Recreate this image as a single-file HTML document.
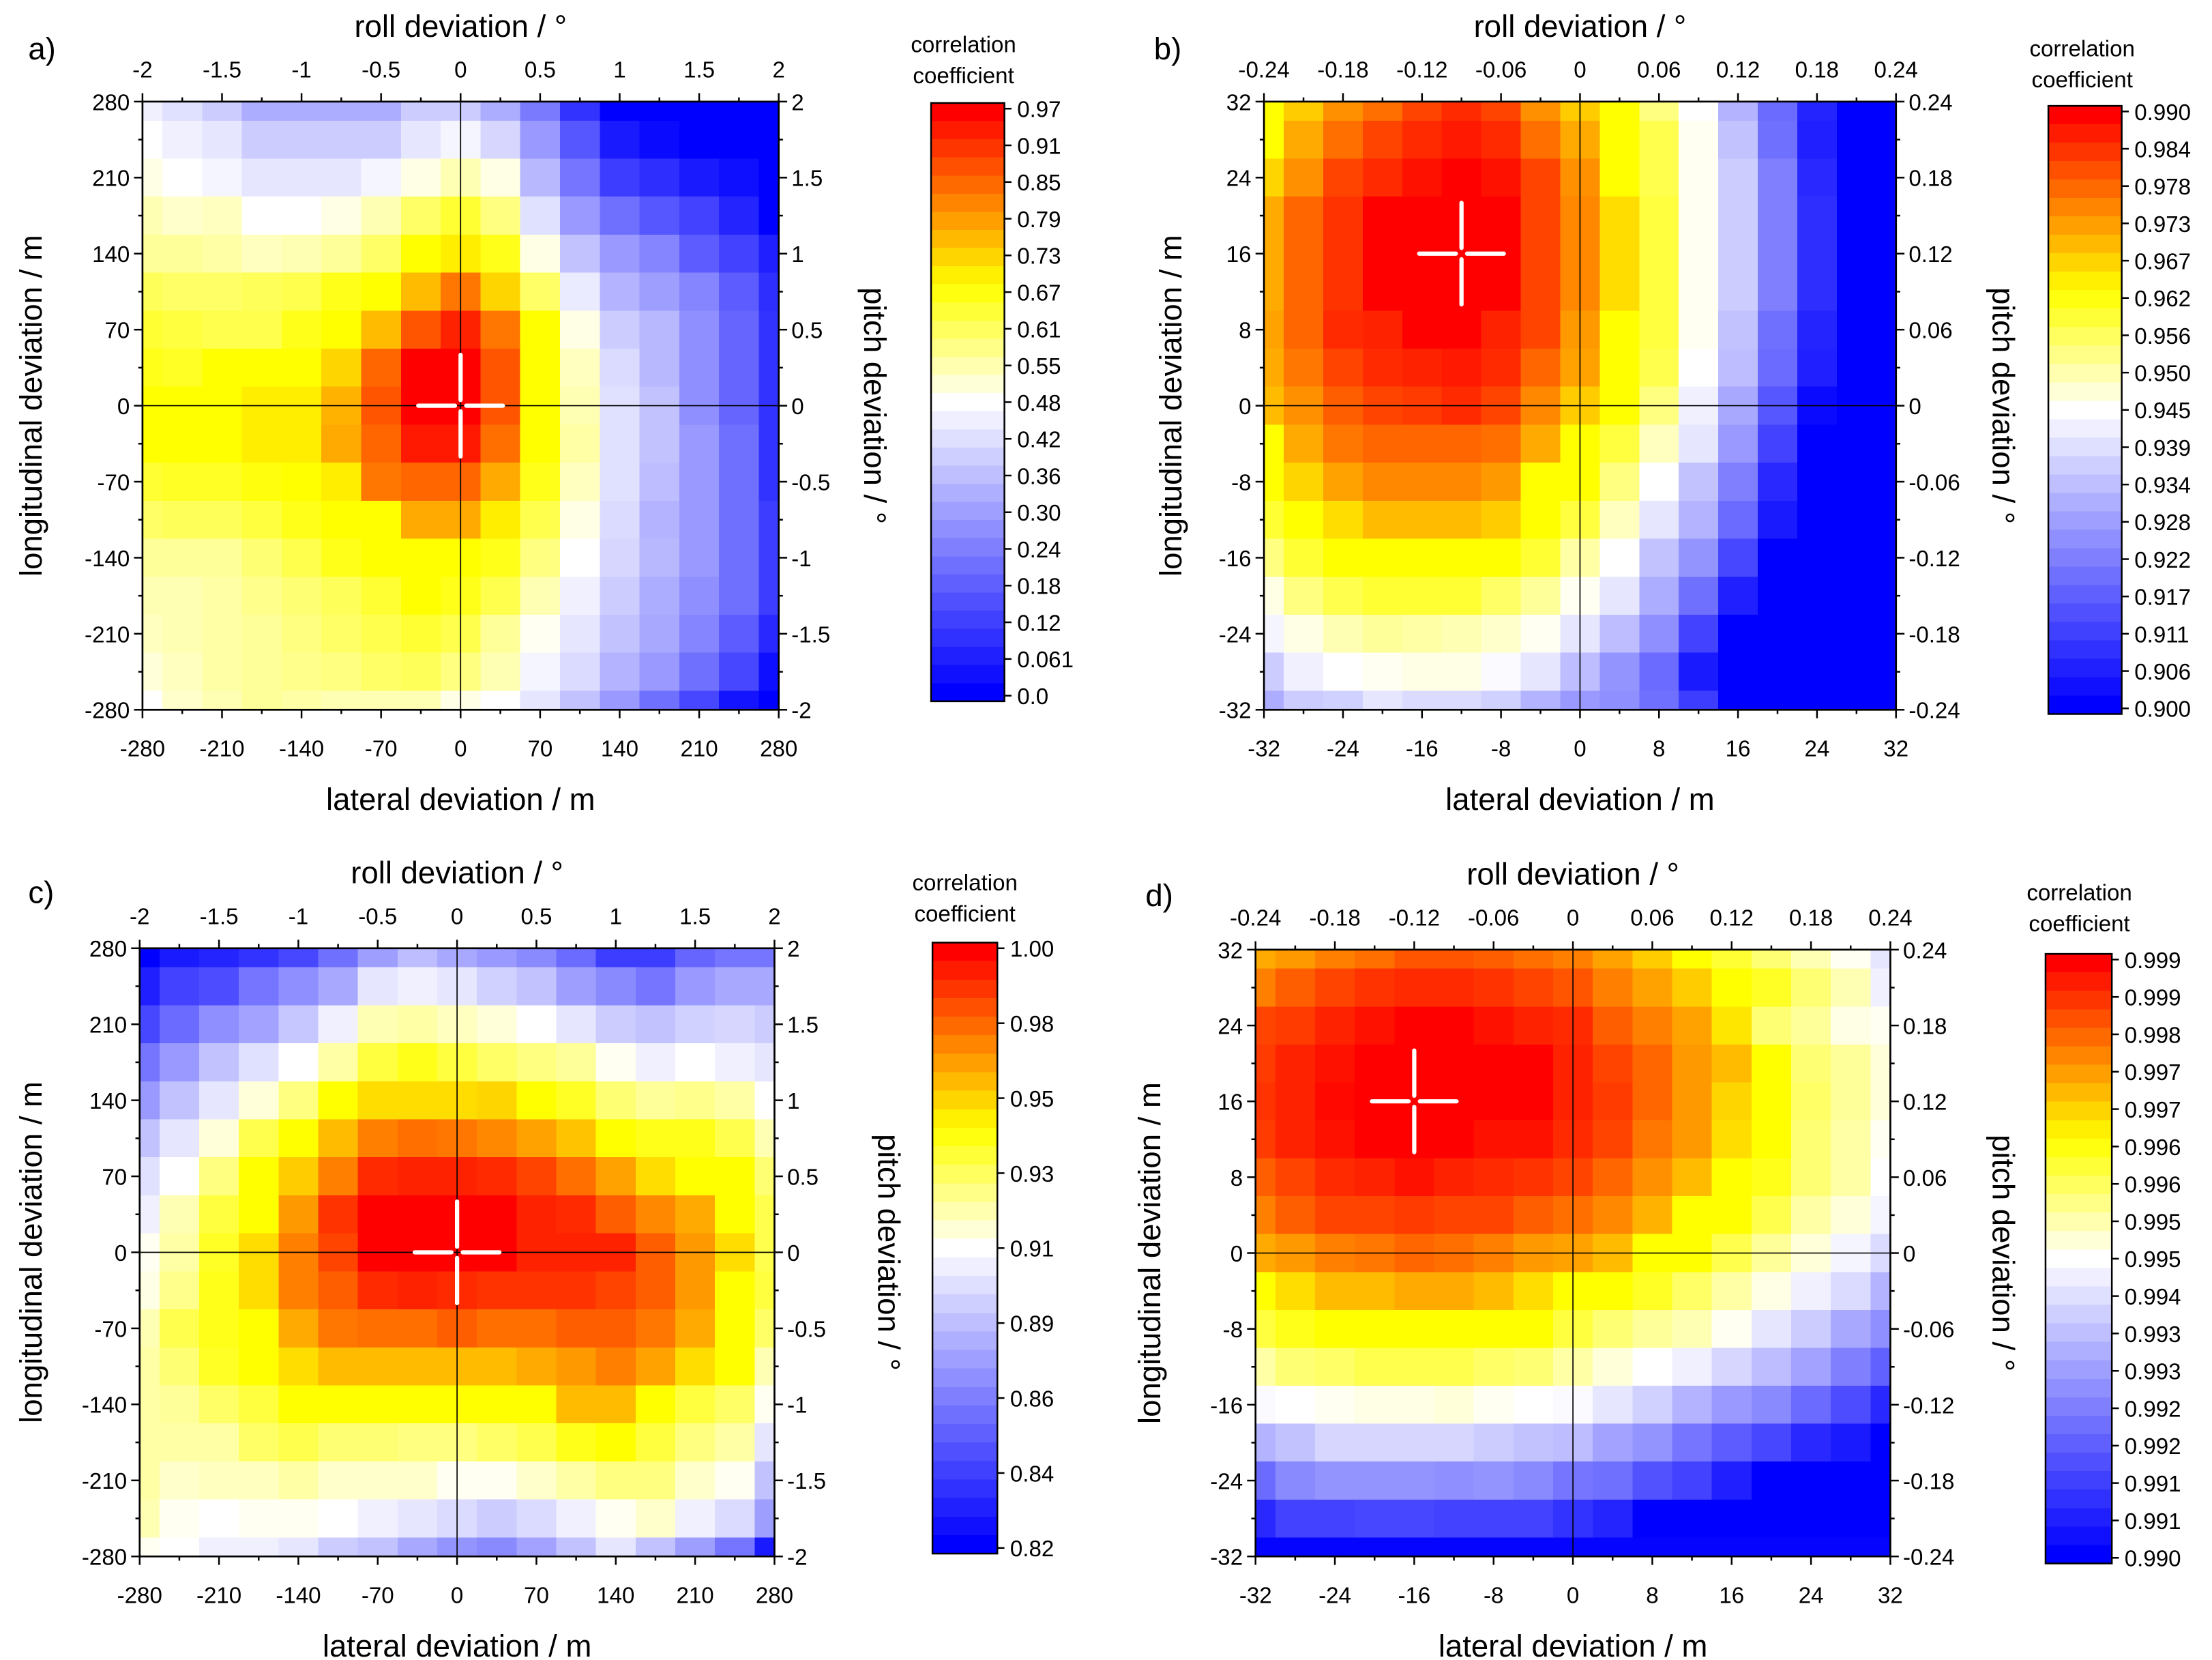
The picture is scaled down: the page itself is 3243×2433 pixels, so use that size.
<!DOCTYPE html>
<html><head><meta charset="utf-8"><style>
html,body{margin:0;padding:0;background:#fff;}
svg{display:block;font-family:"Liberation Sans",Arial,sans-serif;}
</style></head><body>
<svg id="fig" xmlns="http://www.w3.org/2000/svg" width="3243" height="2433" viewBox="0 0 1568 1176.4" preserveAspectRatio="none"></svg>
<script>
// ---- data (normalized colour level 0..100; rows from top y=max to bottom y=min) ----
const aLateral = [-280,-245,-210,-175,-140,-105,-70,-35,0,35,70,105,140,175,210,245,280];
const aLongitudinal = [280,245,210,175,140,105,70,35,0,-35,-70,-105,-140,-175,-210,-245,-280];
const aVals = [
[47,44,40,34,34,34,34,40,40,34,24,10,0,0,0,0,0],
[50,47,45,40,40,40,40,45,48,42,30,17,5,2,0,0,0],
[52,50,48,45,45,45,48,52,56,52,36,23,12,9,5,3,0],
[56,54,55,50,50,52,56,62,66,60,44,30,22,17,13,7,0],
[58,58,57,55,56,58,62,70,72,68,52,38,30,26,18,13,6],
[63,62,62,63,64,68,70,78,86,75,62,46,35,31,26,18,9],
[66,65,64,64,68,70,78,90,96,86,70,52,40,36,28,20,10],
[68,67,70,70,70,75,88,100,100,90,70,55,43,36,28,20,10],
[70,70,70,72,72,79,90,100,100,90,70,56,44,38,28,20,10],
[70,70,70,72,72,80,88,97,97,87,70,57,44,38,30,22,10],
[66,67,67,69,70,72,86,88,88,80,68,55,44,37,30,22,10],
[62,63,63,65,68,70,70,80,80,72,64,52,43,35,30,22,12],
[58,58,58,61,64,68,70,70,70,68,60,50,42,36,30,22,12],
[56,56,57,59,61,63,66,70,68,64,56,47,40,34,28,22,12],
[55,56,57,58,60,62,64,66,64,58,51,45,38,33,26,18,8],
[53,55,57,58,59,60,62,63,60,56,48,43,35,30,22,14,3],
[50,54,56,58,57,56,56,56,52,50,45,38,30,22,14,4,0]];
const bLateral = [-32,-28,-24,-20,-16,-12,-8,-4,0,4,8,12,16,20,24,28,32];
const bLongitudinal = [32,28,24,20,16,12,8,4,0,-4,-8,-12,-16,-20,-24,-28,-32];
const bVals = [
[70,76,83,87,92,95,92,83,76,70,60,50,35,21,7,0,0],
[70,80,87,92,95,97,95,87,80,70,64,51,38,22,6,0,0],
[75,83,92,95,98,100,98,92,83,70,64,51,40,25,8,0,0],
[80,88,94,100,100,100,100,92,84,74,65,51,40,25,9,0,0],
[80,88,94,100,100,100,100,92,84,74,65,51,40,25,9,0,0],
[80,88,94,100,100,100,100,92,84,74,65,51,40,25,9,0,0],
[81,88,95,96,100,100,96,92,82,70,65,51,38,22,7,0,0],
[80,86,92,95,96,97,95,88,81,70,64,50,37,21,6,0,0],
[78,83,89,92,93,95,92,84,76,70,60,47,33,17,2,0,0],
[70,80,86,88,88,88,87,80,70,65,55,45,30,13,0,0,0],
[70,75,81,84,84,84,82,70,70,60,50,38,25,8,0,0,0],
[66,70,74,78,78,78,76,70,65,55,45,35,21,5,0,0,0],
[60,66,70,70,70,70,70,66,57,50,38,29,14,0,0,0,0],
[52,60,64,66,66,66,62,58,51,45,34,22,6,0,0,0,0],
[48,52,56,58,57,56,54,51,45,37,28,13,0,0,0,0,0],
[40,47,50,51,52,52,49,45,37,29,21,5,0,0,0,0,0],
[34,40,41,45,43,43,41,35,30,28,22,12,0,0,0,0,0]];
const cLateral = aLateral.slice();
const cLongitudinal = aLongitudinal.slice();
const cVals = [
[0,5,7,10,14,22,31,37,33,30,27,21,12,12,20,23,23],
[6,13,15,23,28,33,45,47,45,41,38,31,27,23,30,33,33],
[14,21,28,32,39,47,56,57,55,53,50,45,40,38,41,42,40],
[23,30,38,44,50,57,65,68,65,62,60,58,51,47,50,47,45],
[30,38,45,53,60,70,74,74,74,75,70,67,61,58,59,57,50],
[38,45,53,64,70,78,85,87,86,84,81,77,70,68,68,64,56],
[44,50,60,70,76,85,95,96,96,95,92,87,81,74,70,70,61],
[47,56,65,70,82,94,100,100,100,100,96,95,89,84,80,70,64],
[51,57,67,74,85,92,100,100,100,100,96,96,96,89,82,74,64],
[52,59,68,74,85,89,95,96,95,94,94,94,92,89,82,70,65],
[56,64,68,70,80,86,87,87,89,87,87,89,89,86,80,70,62],
[57,61,67,70,74,78,78,78,78,78,80,82,85,81,74,70,56],
[57,58,62,65,70,70,70,70,70,70,70,78,78,70,65,62,51],
[57,57,57,62,64,61,61,60,60,62,64,68,70,65,60,57,45],
[57,54,55,55,57,54,54,54,51,51,54,57,60,60,54,51,38],
[56,51,50,51,51,50,47,45,43,40,43,47,51,54,47,43,31],
[51,50,47,47,45,40,38,33,29,27,32,38,45,38,31,23,5]];
const dLateral = bLateral.slice();
const dLongitudinal = bLongitudinal.slice();
const dVals = [
[80,82,85,87,90,90,89,87,85,81,76,70,66,61,56,51,45],
[85,89,92,94,95,95,94,92,90,85,81,76,70,67,61,56,47],
[92,93,96,98,100,100,98,96,95,89,85,81,73,61,58,52,51],
[93,96,98,100,100,100,100,100,96,92,88,82,78,70,61,58,53],
[94,96,99,100,100,100,100,100,96,93,88,82,75,70,62,58,53],
[93,96,98,100,100,100,98,98,95,92,86,82,74,70,61,57,51],
[89,92,95,96,98,96,95,94,92,88,83,78,70,68,61,57,50],
[85,89,92,92,93,92,92,89,87,84,79,70,70,64,57,53,48],
[80,82,85,86,88,87,85,82,81,78,70,70,64,58,53,48,43],
[70,74,78,78,80,80,78,74,70,70,67,62,57,52,47,43,35],
[65,68,70,70,70,70,70,70,65,61,58,56,51,45,40,33,28],
[57,61,62,64,64,64,62,61,57,53,50,47,42,37,32,25,19],
[49,50,51,52,52,53,51,50,49,45,41,35,30,27,21,15,8],
[35,38,42,42,42,42,40,38,37,32,29,23,18,14,8,5,0],
[21,27,29,29,29,28,29,27,23,22,16,13,6,0,0,0,0],
[8,13,13,14,14,13,13,13,10,7,0,0,0,0,0,0,0],
[1,1,1,1,1,1,1,1,1,1,1,1,1,1,1,1,1]];
// tick labels
const lateralTicksWide = [-280,-210,-140,-70,0,70,140,210,280];
const angleTicksWide = [-2,-1.5,-1,-0.5,0,0.5,1,1.5,2];
const lateralTicksNarrow = [-32,-24,-16,-8,0,8,16,24,32];
const angleTicksNarrow = [-0.24,-0.18,-0.12,-0.06,0,0.06,0.12,0.18,0.24];
const angleLabelsNarrow = ["-0.24","-0.18","-0.12","-0.06","0","0.06","0.12","0.18","0.24"];
const cbLabelsA = ["0.97","0.91","0.85","0.79","0.73","0.67","0.61","0.55","0.48","0.42","0.36","0.30","0.24","0.18","0.12","0.061","0.0"];
const cbLabelsB = ["0.990","0.984","0.978","0.973","0.967","0.962","0.956","0.950","0.945","0.939","0.934","0.928","0.922","0.917","0.911","0.906","0.900"];
const cbLabelsC = ["1.00","0.98","0.95","0.93","0.91","0.89","0.86","0.84","0.82"];
const cbLabelsD = ["0.999","0.999","0.998","0.997","0.997","0.996","0.996","0.995","0.995","0.994","0.993","0.993","0.992","0.992","0.991","0.991","0.990"];
const peakA = [0,0], peakB = [-12,16], peakC = [0,0], peakD = [-16,16];

// ---- drawing ----
const NS = "http://www.w3.org/2000/svg";
const svg = document.getElementById('fig');
function mk(tag, attrs, parent){ const e=document.createElementNS(NS,tag); for(const k in attrs) e.setAttribute(k,attrs[k]); (parent||svg).appendChild(e); return e; }
function colour(t){
  let r,g,b;
  if(t<=50){const f=t/50; r=g=Math.round(255*f); b=255;}
  else if(t<=70){const f=(t-50)/20; r=255; g=255; b=Math.round(255*(1-f));}
  else {const f=Math.min(1,(t-70)/30); r=255; g=Math.round(255*(1-f)); b=0;}
  return `rgb(${r},${g},${b})`;
}
function fmt(v){ return String(v); }

const panels = [
 {id:'a', lat:aLateral, lon:aLongitudinal, vals:aVals, x0:101,x1:552,y0:72,y1:503, xr:[-280,280], ar:[-2,2],
  xt:lateralTicksWide, at:angleTicksWide, al:angleTicksWide.map(fmt), peak:peakA,
  cb:{x:660,w:52,y0:73,y1:497,labels:cbLabelsA,tx:683,ty:37}, tag:'a)', tagx:20, tagy:42, ltx:22, rtx:620},
 {id:'b', lat:bLateral, lon:bLongitudinal, vals:bVals, x0:896,x1:1344,y0:72,y1:503, xr:[-32,32], ar:[-0.24,0.24],
  xt:lateralTicksNarrow, at:angleTicksNarrow, al:angleLabelsNarrow, peak:peakB,
  cb:{x:1452,w:52,y0:75,y1:506,labels:cbLabelsB,tx:1476,ty:40}, tag:'b)', tagx:818, tagy:42, ltx:830, rtx:1420},
 {id:'c', lat:cLateral, lon:cLongitudinal, vals:cVals, x0:99,x1:549,y0:672,y1:1103, xr:[-280,280], ar:[-2,2],
  xt:lateralTicksWide, at:angleTicksWide, al:angleTicksWide.map(fmt), peak:peakC,
  cb:{x:661,w:46,y0:668,y1:1101,labels:cbLabelsC,tx:684,ty:631}, tag:'c)', tagx:20, tagy:640, ltx:22, rtx:630},
 {id:'d', lat:dLateral, lon:dLongitudinal, vals:dVals, x0:890,x1:1340,y0:673,y1:1103, xr:[-32,32], ar:[-0.24,0.24],
  xt:lateralTicksNarrow, at:angleTicksNarrow, al:angleLabelsNarrow, peak:peakD,
  cb:{x:1450,w:47,y0:676,y1:1108,labels:cbLabelsD,tx:1474,ty:638}, tag:'d)', tagx:812, tagy:642, ltx:815, rtx:1420}
];

panels.forEach(p=>{
  const g = mk('g',{});
  
  
  const sx = v => p.x0 + (v-p.xr[0])/(p.xr[1]-p.xr[0])*(p.x1-p.x0);
  const sy = v => p.y1 - (v-p.xr[0])/(p.xr[1]-p.xr[0])*(p.y1-p.y0);
  const sa = v => p.x0 + (v-p.ar[0])/(p.ar[1]-p.ar[0])*(p.x1-p.x0);
  const say = v => p.y1 - (v-p.ar[0])/(p.ar[1]-p.ar[0])*(p.y1-p.y0);
  const dx = (p.x1-p.x0)/(p.lat.length-1), dy=(p.y1-p.y0)/(p.lon.length-1);
  const cells = mk('g',{'shape-rendering':'crispEdges'},g);
  
  
  p.vals.forEach((row,ri)=>{
    row.forEach((v,ci)=>{
      const cx=sx(p.lat[ci]), cy=sy(p.lon[ri]);
      const xa=Math.max(p.x0,cx-dx/2), xb=Math.min(p.x1,cx+dx/2);
      const ya=Math.max(p.y0,cy-dy/2), yb=Math.min(p.y1,cy+dy/2);
      const r=mk('rect',{x:xa,y:ya,width:xb-xa+0.4,height:yb-ya+0.4,fill:colour(v)},cells);
      
      
    });
  });
  const zl1=mk('line',{x1:sx(0),x2:sx(0),y1:p.y0,y2:p.y1,stroke:'#000','stroke-width':0.8},g);
  
  
  const zl2=mk('line',{x1:p.x0,x2:p.x1,y1:sy(0),y2:sy(0),stroke:'#000','stroke-width':0.8},g);
  
  
  const px=sx(p.peak[0]), py=sy(p.peak[1]);
  const cr=mk('g',{stroke:'#fff','stroke-width':3,'stroke-linecap':'round'},g);
  
  
  mk('line',{x1:px-30,x2:px-4,y1:py,y2:py},cr);
  mk('line',{x1:px+4,x2:px+30,y1:py,y2:py},cr);
  mk('line',{x1:px,x2:px,y1:py-36,y2:py-4},cr);
  mk('line',{x1:px,x2:px,y1:py+4,y2:py+36},cr);
  const fr=mk('rect',{x:p.x0,y:p.y0,width:p.x1-p.x0,height:p.y1-p.y0,fill:'none',stroke:'#000','stroke-width':1.3},g);
  
  
  const tk=mk('g',{stroke:'#000','stroke-width':1.2},g);
  const stepL=p.xt[1]-p.xt[0], stepA=p.at[1]-p.at[0];
  for(let i=0;i<p.xt.length;i++){
    const v=p.xt[i];
    mk('line',{x1:sx(v),x2:sx(v),y1:p.y1,y2:p.y1+6},tk);
    mk('line',{x1:p.x0,x2:p.x0-6,y1:sy(v),y2:sy(v)},tk);
    if(i<p.xt.length-1){const m=v+stepL/2;
      mk('line',{x1:sx(m),x2:sx(m),y1:p.y1,y2:p.y1+3},tk);
      mk('line',{x1:p.x0,x2:p.x0-3,y1:sy(m),y2:sy(m)},tk);}
  }
  for(let i=0;i<p.at.length;i++){
    const v=p.at[i];
    mk('line',{x1:sa(v),x2:sa(v),y1:p.y0,y2:p.y0-6},tk);
    mk('line',{x1:p.x1,x2:p.x1+6,y1:say(v),y2:say(v)},tk);
    if(i<p.at.length-1){const m=v+stepA/2;
      mk('line',{x1:sa(m),x2:sa(m),y1:p.y0,y2:p.y0-3},tk);
      mk('line',{x1:p.x1,x2:p.x1+3,y1:say(m),y2:say(m)},tk);}
  }
  p.xt.forEach(v=>{
    const t=mk('text',{x:sx(v),y:p.y1+33,'font-size':16,'text-anchor':'middle'},g); t.textContent=String(v);
    
    
    const t2=mk('text',{x:p.x0-9,y:sy(v)+6,'font-size':16,'text-anchor':'end'},g); t2.textContent=String(v);
    
    
  });
  p.at.forEach((v,i)=>{
    const t=mk('text',{x:sa(v),y:p.y0-17,'font-size':16,'text-anchor':'middle'},g); t.textContent=p.al[i];
    
    
    const t2=mk('text',{x:p.x1+9,y:say(v)+6,'font-size':16,'text-anchor':'start'},g); t2.textContent=p.al[i];
    
    
  });
  const cx=(p.x0+p.x1)/2, cy=(p.y0+p.y1)/2;
  let t=mk('text',{x:cx,y:p.y0-46,'font-size':22,'text-anchor':'middle'},g); t.textContent='roll deviation / °';
  
  
  t=mk('text',{x:cx,y:p.y1+71,'font-size':22,'text-anchor':'middle'},g); t.textContent='lateral deviation / m';
  
  
  t=mk('text',{x:p.ltx,y:cy,'font-size':22,'text-anchor':'middle','dominant-baseline':'central',transform:`rotate(-90 ${p.ltx} ${cy})`},g); t.textContent='longitudinal deviation / m';
  
  
  t=mk('text',{x:p.rtx,y:cy,'font-size':22,'text-anchor':'middle','dominant-baseline':'central',transform:`rotate(90 ${p.rtx} ${cy})`},g); t.textContent='pitch deviation / °';
  
  
  t=mk('text',{x:p.tagx,y:p.tagy,'font-size':22},g); t.textContent=p.tag;
  
  
  const cb=mk('g',{'shape-rendering':'crispEdges'},g);
  
  
  const N=33, h=(p.cb.y1-p.cb.y0)/N;
  for(let i=0;i<N;i++){
    const lev=100-i*100/(N-1);
    mk('rect',{x:p.cb.x,y:p.cb.y0+i*h,width:p.cb.w,height:h+0.5,fill:colour(lev)},cb);
  }
  mk('rect',{x:p.cb.x,y:p.cb.y0,width:p.cb.w,height:p.cb.y1-p.cb.y0,fill:'none',stroke:'#000','stroke-width':1.2},g);
  const L=p.cb.labels, ly0=p.cb.y0+4, ly1=p.cb.y1-4;
  L.forEach((s,i)=>{
    const y=ly0+(ly1-ly0)*i/(L.length-1);
    mk('line',{x1:p.cb.x+p.cb.w,x2:p.cb.x+p.cb.w+5,y1:y,y2:y,stroke:'#000','stroke-width':1.2},g);
    const tt=mk('text',{x:p.cb.x+p.cb.w+9,y:y+6,'font-size':16},g); tt.textContent=s;
    
    
  });
  t=mk('text',{x:p.cb.tx,y:p.cb.ty,'font-size':16,'text-anchor':'middle'},g); t.textContent='correlation';
  
  
  t=mk('text',{x:p.cb.tx,y:p.cb.ty+22,'font-size':16,'text-anchor':'middle'},g); t.textContent='coefficient';
  
  
});
</script>
</body></html>
